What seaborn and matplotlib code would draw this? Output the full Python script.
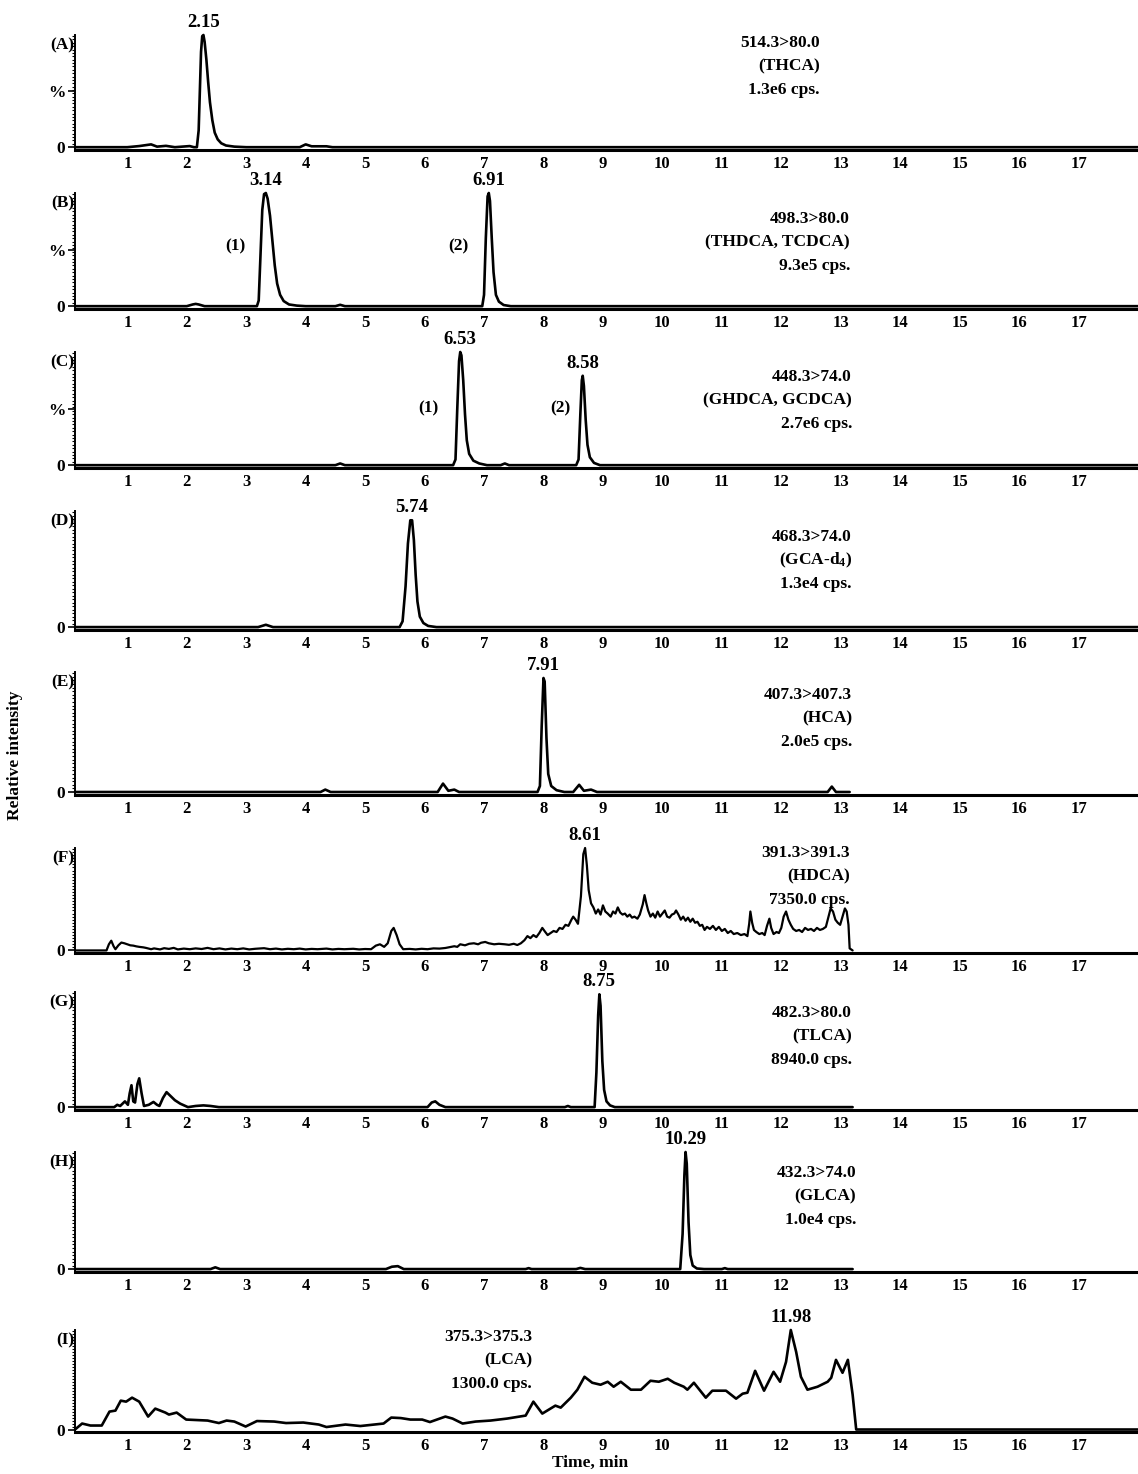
import numpy as np
import pandas as pd
import matplotlib
matplotlib.use("Agg")
import matplotlib.pyplot as plt
import seaborn as sns
from matplotlib.ticker import FixedLocator, MultipleLocator

sns.set_style("white")
plt.rcParams["font.family"] = ["Liberation Serif", "DejaVu Serif"]
plt.rcParams["font.weight"] = "bold"
plt.rcParams["text.color"] = "black"
plt.rcParams["xtick.color"] = "black"
plt.rcParams["ytick.color"] = "black"
plt.rcParams["axes.edgecolor"] = "black"
plt.rcParams["mathtext.fontset"] = "custom"
plt.rcParams["mathtext.rm"] = "Liberation Serif:bold"
plt.rcParams["mathtext.it"] = "Liberation Serif:bold"
plt.rcParams["mathtext.bf"] = "Liberation Serif:bold"

# ---- chromatogram traces (time in min, relative intensity) ----
A_time = [0.12, 1.0, 1.2, 1.4, 1.5, 1.65, 1.8, 2.05, 2.12, 2.17, 2.20, 2.22, 2.24, 2.26, 2.28,
          2.30, 2.33, 2.36, 2.39, 2.43, 2.47, 2.52, 2.58, 2.66, 2.8, 3.0, 3.9, 4.0, 4.1, 4.35, 4.45, 18.0]
A_int = [0, 0, 0.01, 0.025, 0.005, 0.012, 0, 0.01, 0, 0.0, 0.15, 0.5, 0.85, 0.99, 1.0,
         0.94, 0.78, 0.58, 0.4, 0.24, 0.13, 0.07, 0.035, 0.015, 0.005, 0, 0, 0.025, 0.008, 0.008, 0, 0]

B_time = [0.12, 2.0, 2.1, 2.15, 2.2, 2.3, 3.18, 3.21, 3.24, 3.27, 3.30, 3.33, 3.36, 3.40, 3.44,
          3.48, 3.52, 3.57, 3.63, 3.72, 3.85, 4.0, 4.5, 4.58, 4.66, 6.97, 7.0, 7.03, 7.06, 7.08,
          7.10, 7.13, 7.16, 7.2, 7.25, 7.33, 7.45, 18.0]
B_int = [0, 0, 0.015, 0.02, 0.015, 0, 0, 0.05, 0.45, 0.85, 0.99, 1.0, 0.95, 0.8, 0.58,
         0.36, 0.2, 0.1, 0.045, 0.015, 0.005, 0, 0, 0.012, 0, 0, 0.1, 0.6, 0.97, 1.0,
         0.93, 0.6, 0.3, 0.1, 0.04, 0.01, 0, 0]

C_time = [0.12, 4.5, 4.58, 4.66, 6.48, 6.52, 6.55, 6.58, 6.60, 6.62, 6.65, 6.68, 6.71, 6.75,
          6.82, 6.92, 7.05, 7.28, 7.35, 7.42, 8.55, 8.59, 8.62, 8.645, 8.66, 8.68, 8.71, 8.74,
          8.78, 8.85, 8.95, 18.0]
C_int = [0, 0, 0.015, 0, 0, 0.05, 0.5, 0.92, 1.0, 0.97, 0.75, 0.45, 0.22, 0.1,
         0.04, 0.015, 0, 0, 0.015, 0, 0, 0.05, 0.45, 0.75, 0.79, 0.7, 0.4, 0.18,
         0.07, 0.02, 0, 0]

D_time = [0.12, 3.2, 3.33, 3.45, 5.58, 5.63, 5.68, 5.72, 5.76, 5.79, 5.82, 5.85, 5.88, 5.92,
          5.98, 6.06, 6.2, 18.0]
D_int = [0, 0, 0.02, 0, 0, 0.05, 0.35, 0.72, 0.92, 0.92, 0.75, 0.45, 0.22, 0.09,
         0.035, 0.01, 0, 0]

E_time = [0.12, 4.25, 4.33, 4.42, 6.22, 6.31, 6.4, 6.5, 6.58, 7.9, 7.94, 7.97, 8.0, 8.02,
          8.05, 8.08, 8.13, 8.22, 8.35, 8.5, 8.6, 8.68, 8.8, 8.9, 12.78, 12.85, 12.92, 13.15]
E_int = [0, 0, 0.02, 0, 0, 0.07, 0.01, 0.02, 0, 0, 0.05, 0.55, 0.95, 0.92,
         0.45, 0.15, 0.05, 0.015, 0, 0, 0.06, 0.01, 0.02, 0, 0, 0.045, 0, 0]

F_time = [0.12, 0.65, 0.69, 0.73, 0.77, 0.8, 0.85, 0.9, 0.95, 1.0, 1.05, 1.1, 1.15, 1.2, 1.27,
          1.32, 1.4, 1.45, 1.55, 1.62, 1.7, 1.78, 1.85, 1.95, 2.05, 2.15, 2.25, 2.35, 2.45, 2.55,
          2.65, 2.75, 2.85, 2.95, 3.05, 3.15, 3.3, 3.4, 3.5, 3.6, 3.7, 3.8, 3.9, 4.0, 4.1, 4.2,
          4.35, 4.45, 4.55, 4.65, 4.8, 4.9, 5.0, 5.1, 5.18, 5.25, 5.32, 5.38, 5.44, 5.48, 5.53,
          5.58, 5.64, 5.75, 5.85, 5.95, 6.05, 6.15, 6.25, 6.35, 6.45, 6.5, 6.55, 6.6, 6.68, 6.75,
          6.83, 6.9, 6.95, 7.02, 7.08, 7.17, 7.25, 7.35, 7.42, 7.5, 7.56, 7.62, 7.68, 7.73, 7.78,
          7.83, 7.88, 7.93, 7.98, 8.03, 8.07, 8.12, 8.17, 8.22, 8.27, 8.32, 8.37, 8.42, 8.47, 8.5,
          8.54, 8.58, 8.63, 8.67, 8.70, 8.73, 8.76, 8.8, 8.84, 8.88, 8.92, 8.96, 9.0, 9.04, 9.08,
          9.13, 9.17, 9.21, 9.25, 9.29, 9.33, 9.37, 9.41, 9.45, 9.49, 9.53, 9.58, 9.62, 9.67, 9.7,
          9.73, 9.76, 9.8, 9.84, 9.88, 9.92, 9.96, 10.0, 10.04, 10.08, 10.12, 10.16, 10.2, 10.23,
          10.27, 10.31, 10.35, 10.39, 10.43, 10.47, 10.51, 10.55, 10.59, 10.63, 10.67, 10.71,
          10.75, 10.8, 10.85, 10.9, 10.95, 11.0, 11.05, 11.1, 11.15, 11.2, 11.26, 11.32, 11.38,
          11.43, 11.46, 11.48, 11.51, 11.54, 11.58, 11.63, 11.68, 11.72, 11.76, 11.8, 11.83,
          11.87, 11.92, 11.96, 12.0, 12.04, 12.08, 12.12, 12.16, 12.2, 12.25, 12.3, 12.35, 12.4,
          12.45, 12.5, 12.55, 12.6, 12.65, 12.7, 12.75, 12.79, 12.83, 12.87, 12.91, 12.95, 12.99,
          13.03, 13.07, 13.1, 13.13, 13.15, 13.2]
F_int = [0, 0, 0.06, 0.095, 0.04, 0.012, 0.05, 0.077, 0.07, 0.06, 0.05, 0.047, 0.04, 0.035, 0.03,
         0.024, 0.012, 0.02, 0.01, 0.022, 0.015, 0.025, 0.01, 0.018, 0.012, 0.02, 0.014, 0.025, 0.012, 0.02,
         0.01, 0.018, 0.012, 0.02, 0.01, 0.016, 0.022, 0.012, 0.018, 0.01, 0.016, 0.012, 0.018, 0.01, 0.015, 0.012,
         0.018, 0.01, 0.015, 0.012, 0.016, 0.01, 0.014, 0.012, 0.047, 0.06, 0.035, 0.07, 0.19, 0.22, 0.15,
         0.06, 0.012, 0.015, 0.01, 0.016, 0.012, 0.02, 0.018, 0.024, 0.035, 0.041, 0.035, 0.06, 0.05, 0.065,
         0.07, 0.06, 0.075, 0.083, 0.07, 0.06, 0.065, 0.06, 0.055, 0.065, 0.053, 0.07, 0.1, 0.14, 0.12,
         0.15, 0.13, 0.17, 0.22, 0.18, 0.15, 0.17, 0.19, 0.18, 0.22, 0.21, 0.25, 0.24, 0.3, 0.33,
         0.3, 0.26, 0.53, 0.94, 1.0, 0.83, 0.59, 0.46, 0.42, 0.36, 0.4, 0.35, 0.44, 0.38, 0.36,
         0.33, 0.38, 0.36, 0.42, 0.37, 0.35, 0.36, 0.33, 0.35, 0.32, 0.33, 0.31, 0.35, 0.45, 0.54,
         0.46, 0.39, 0.33, 0.36, 0.32, 0.38, 0.33, 0.36, 0.39, 0.33, 0.32, 0.35, 0.36, 0.39,
         0.35, 0.3, 0.33, 0.29, 0.32, 0.28, 0.31, 0.27, 0.28, 0.24, 0.25, 0.2,
         0.23, 0.21, 0.24, 0.2, 0.23, 0.19, 0.21, 0.17, 0.19, 0.16, 0.17, 0.15, 0.16,
         0.14, 0.26, 0.38, 0.27, 0.2, 0.18, 0.16, 0.17, 0.15, 0.24, 0.31, 0.22,
         0.16, 0.18, 0.17, 0.22, 0.33, 0.38, 0.3, 0.25, 0.21, 0.19, 0.2, 0.18, 0.22,
         0.2, 0.21, 0.19, 0.22, 0.2, 0.21, 0.23, 0.32, 0.41, 0.38, 0.3, 0.27, 0.25,
         0.33, 0.41, 0.38, 0.25, 0.02, 0]

G_time = [0.12, 0.78, 0.83, 0.88, 0.96, 1.01, 1.04, 1.07, 1.10, 1.13, 1.17, 1.2, 1.24, 1.28,
          1.36, 1.44, 1.5, 1.54, 1.6, 1.66, 1.72, 1.8, 1.89, 2.02, 2.15, 2.28, 2.4, 2.54, 6.05,
          6.12, 6.18, 6.25, 6.35, 8.36, 8.41, 8.46, 8.86, 8.89, 8.92, 8.94, 8.96, 8.99, 9.02,
          9.06, 9.12, 9.2, 13.2]
G_int = [0, 0, 0.02, 0.01, 0.05, 0.02, 0.12, 0.19, 0.05, 0.04, 0.2, 0.25, 0.12, 0.01,
         0.02, 0.045, 0.02, 0.01, 0.08, 0.13, 0.1, 0.06, 0.03, 0, 0.01, 0.015, 0.01, 0, 0,
         0.04, 0.05, 0.02, 0, 0, 0.01, 0, 0, 0.3, 0.8, 0.98, 0.88, 0.4, 0.15,
         0.05, 0.015, 0, 0]

H_time = [0.12, 2.4, 2.48, 2.56, 5.35, 5.45, 5.55, 5.65, 7.7, 7.75, 7.8, 8.55, 8.62, 8.7,
          10.3, 10.34, 10.37, 10.39, 10.41, 10.44, 10.47, 10.51, 10.58, 10.7, 11.0, 11.05, 11.1, 13.2]
H_int = [0, 0, 0.015, 0, 0, 0.02, 0.025, 0, 0, 0.008, 0, 0, 0.01, 0,
         0, 0.3, 0.8, 1.0, 0.9, 0.4, 0.12, 0.03, 0.005, 0, 0, 0.008, 0, 0]

I_time = [0.12, 0.24, 0.38, 0.57, 0.7, 0.8, 0.89, 0.98, 1.08, 1.2, 1.35, 1.47, 1.64, 1.7, 1.83,
          1.99, 2.35, 2.54, 2.67, 2.8, 2.99, 3.18, 3.47, 3.67, 3.96, 4.22, 4.35, 4.67, 4.92,
          5.31, 5.44, 5.6, 5.76, 5.96, 6.09, 6.35, 6.47, 6.64, 6.86, 7.11, 7.39, 7.7, 7.83,
          7.98, 8.2, 8.29, 8.46, 8.57, 8.69, 8.82, 8.96, 9.08, 9.18, 9.3, 9.47, 9.64, 9.8,
          9.94, 10.09, 10.2, 10.36, 10.42, 10.53, 10.73, 10.84, 11.07, 11.24, 11.35, 11.43,
          11.56, 11.71, 11.87, 11.98, 12.08, 12.16, 12.25, 12.33, 12.44, 12.61, 12.78, 12.84,
          12.92, 13.03, 13.12, 13.2, 13.26, 18.0]
I_int = [0, 0.06, 0.04, 0.04, 0.18, 0.19, 0.29, 0.28, 0.32, 0.28, 0.13, 0.21, 0.17, 0.15, 0.17,
         0.1, 0.09, 0.065, 0.09, 0.08, 0.03, 0.085, 0.08, 0.065, 0.07, 0.05, 0.025, 0.05, 0.035,
         0.06, 0.12, 0.115, 0.1, 0.1, 0.075, 0.13, 0.11, 0.06, 0.08, 0.09, 0.11, 0.14, 0.28,
         0.16, 0.24, 0.22, 0.32, 0.4, 0.53, 0.47, 0.45, 0.48, 0.43, 0.48, 0.4, 0.4, 0.49,
         0.48, 0.51, 0.47, 0.43, 0.4, 0.47, 0.32, 0.39, 0.39, 0.31, 0.36, 0.37,
         0.59, 0.39, 0.58, 0.48, 0.68, 1.0, 0.78, 0.53, 0.4, 0.43, 0.48, 0.52,
         0.7, 0.57, 0.7, 0.35, 0.0, 0]

# ---- peak labels: (label text, retention time of apex on the trace) ----
A_peaks = [("2.15", 2.28)]
B_peaks = [("3.14", 3.33), ("6.91", 7.08)]
C_peaks = [("6.53", 6.60), ("8.58", 8.66)]
D_peaks = [("5.74", 5.775)]
E_peaks = [("7.91", 8.0)]
F_peaks = [("8.61", 8.70)]
G_peaks = [("8.75", 8.94)]
H_peaks = [("10.29", 10.39)]
I_peaks = [("11.98", 12.16)]

# numbered isomer markers (text, time, height)
B_marks = [("(1)", 2.82, 0.53), ("(2)", 6.57, 0.53)]
C_marks = [("(1)", 6.07, 0.5), ("(2)", 8.29, 0.5)]

A_info = ["514.3>80.0", "(THCA)", "1.3e6 cps."]
B_info = ["498.3>80.0", "(THDCA, TCDCA)", "9.3e5 cps."]
C_info = ["448.3>74.0", "(GHDCA, GCDCA)", "2.7e6 cps."]
D_info = ["468.3>74.0", "(GCA-d$_4$)", "1.3e4 cps."]
E_info = ["407.3>407.3", "(HCA)", "2.0e5 cps."]
F_info = ["391.3>391.3", "(HDCA)", "7350.0 cps."]
G_info = ["482.3>80.0", "(TLCA)", "8940.0 cps."]
H_info = ["432.3>74.0", "(GLCA)", "1.0e4 cps."]
I_info = ["375.3>375.3", "(LCA)", "1300.0 cps."]

x_ticks = list(range(1, 18))

W, H = 1138, 1474
# panel: (letter, time, intensity, peaks, marks, info, top px, bottom px, info right px, info first-line px, show %)
panels = [
    ("A", A_time, A_int, A_peaks, [], A_info, 35, 150, 820, 43, True),
    ("B", B_time, B_int, B_peaks, B_marks, B_info, 193, 309, 850, 219, True),
    ("C", C_time, C_int, C_peaks, C_marks, C_info, 352, 468, 852, 377, True),
    ("D", D_time, D_int, D_peaks, [], D_info, 511, 630, 852, 537, False),
    ("E", E_time, E_int, E_peaks, [], E_info, 672, 795, 852, 695, False),
    ("F", F_time, F_int, F_peaks, [], F_info, 848, 953, 850, 853, False),
    ("G", G_time, G_int, G_peaks, [], G_info, 992, 1110, 852, 1013, False),
    ("H", H_time, H_int, H_peaks, [], H_info, 1152, 1272, 856, 1173, False),
    ("I", I_time, I_int, I_peaks, [], I_info, 1330, 1432, 532, 1337, False),
]

fig = plt.figure(figsize=(W / 100, H / 100), dpi=100)
left_px = 75

for letter, t, inten, peaks, marks, info, top, bot, info_x, info_y, pct in panels:
    ax = fig.add_axes([left_px / W, 1 - bot / H, 1 - left_px / W, (bot - top) / H])
    df = pd.DataFrame({"time": t, "intensity": inten})
    lw = 1.6 if letter == "F" else 1.9
    sns.lineplot(data=df, x="time", y="intensity", ax=ax, color="black",
                 linewidth=lw, estimator=None, sort=False)
    for ln in ax.lines:
        ln.set_clip_on(False)
        ln.set_solid_joinstyle("round")

    ax.set_xlim(0.12, 18.0)
    ax.set_ylim(-0.025, 1.0)
    ax.set_xlabel("")
    ax.set_ylabel("")
    for s in ["top", "right"]:
        ax.spines[s].set_visible(False)
    ax.spines["bottom"].set_linewidth(2.2)
    ax.spines["left"].set_linewidth(1.4)

    ax.xaxis.set_major_locator(FixedLocator(x_ticks))
    ax.set_xticklabels([str(v) for v in x_ticks], fontsize=12, fontweight="bold")
    ax.tick_params(axis="x", length=0, pad=4)

    if pct:
        ax.yaxis.set_major_locator(FixedLocator([0, 0.5]))
        ax.set_yticklabels(["0", "%"], fontsize=12.5, fontweight="bold")
    else:
        ax.yaxis.set_major_locator(FixedLocator([0]))
        ax.set_yticklabels(["0"], fontsize=12.5, fontweight="bold")
    ax.yaxis.set_minor_locator(MultipleLocator(0.03))
    ax.tick_params(axis="y", which="major", direction="out", length=5, width=1.2, pad=2, left=True)
    ax.tick_params(axis="y", which="minor", direction="out", length=2.5, width=0.8, left=True)

    for lab, rt in peaks:
        hgt = np.interp(rt, t, inten)
        ax.annotate(lab, xy=(rt, hgt), xytext=(0, 3), textcoords="offset points",
                    ha="center", va="bottom", fontsize=13.5, fontweight="bold",
                    annotation_clip=False)
    for lab, xm, ym in marks:
        ax.text(xm, ym, lab, ha="center", va="center", fontsize=12.5, fontweight="bold")

    fig.text((left_px - 1) / W, 1 - (top + 10) / H, f"({letter})", ha="right", va="center",
             fontsize=12.5, fontweight="bold")
    for k, line in enumerate(info):
        fig.text(info_x / W, 1 - (info_y + 23.5 * k) / H, line, ha="right", va="center",
                 fontsize=12.5, fontweight="bold")

fig.text(15 / W, 1 - 755 / H, "Relative intensity", rotation=90, ha="center", va="center",
         fontsize=12.5, fontweight="bold")
fig.text(590 / W, 1 - 1463 / H, "Time, min", ha="center", va="center",
         fontsize=12.5, fontweight="bold")

fig.savefig("out.png", dpi=100)
